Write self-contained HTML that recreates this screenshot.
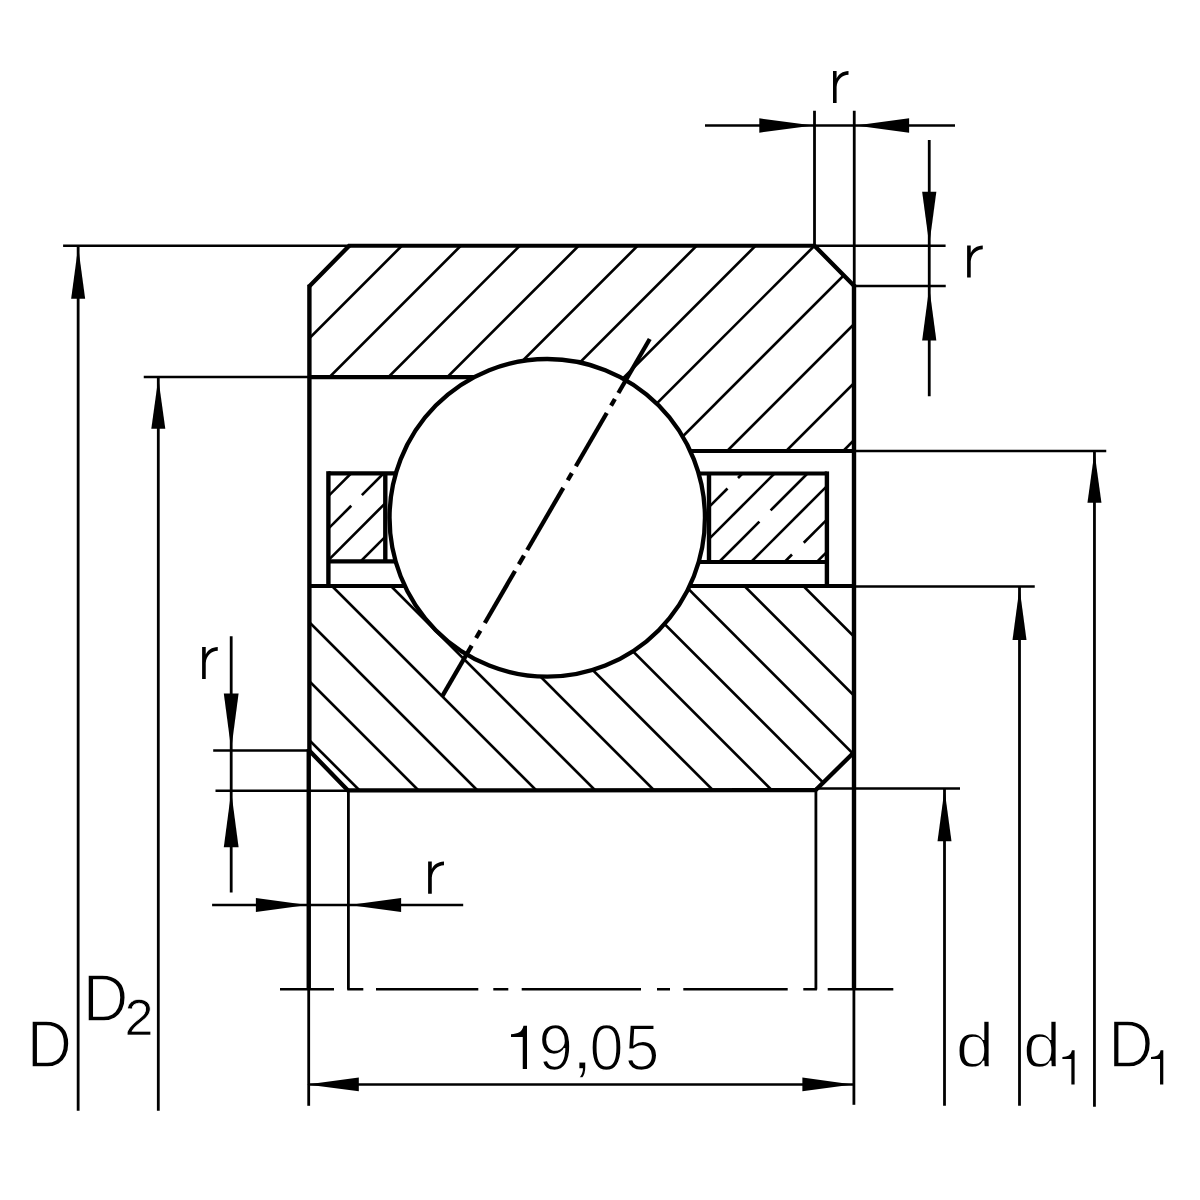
<!DOCTYPE html>
<html><head><meta charset="utf-8"><title>Bearing</title>
<style>
html,body{margin:0;padding:0;background:#fff;}
body{width:1200px;height:1200px;overflow:hidden;font-family:"Liberation Sans",sans-serif;}
svg{display:block;}
svg text{font-family:"Liberation Sans",sans-serif;fill:#000;}
</style></head><body>
<svg width="1200" height="1200" viewBox="0 0 1200 1200" stroke="#000" fill="none" stroke-linecap="butt">
<rect x="0" y="0" width="1200" height="1200" fill="#fff" stroke="none"/>
<defs>
<clipPath id="co"><polygon points="309.4,286.2 349.2,245.75 814.5,245.75 854,285.7 854,451 547,451 547,377.1 309.4,377.1"/></clipPath>
<clipPath id="ci"><polygon points="309.2,586 854,586 854,752.5 815.5,790.2 348,790.4 309.2,750.6"/></clipPath>
<clipPath id="cl"><rect x="328.4" y="473.3" width="56.9" height="88.1"/></clipPath>
<clipPath id="cr"><rect x="709" y="473.5" width="117.9" height="88.5"/></clipPath>
</defs>
<g clip-path="url(#co)">
<line x1="417.6" y1="230" x2="177.6" y2="470" stroke-width="2.65"/>
<line x1="476.55" y1="230" x2="236.55" y2="470" stroke-width="2.65"/>
<line x1="535.5" y1="230" x2="295.5" y2="470" stroke-width="2.65"/>
<line x1="594.45" y1="230" x2="354.45" y2="470" stroke-width="2.65"/>
<line x1="653.4" y1="230" x2="413.4" y2="470" stroke-width="2.65"/>
<line x1="712.35" y1="230" x2="472.35" y2="470" stroke-width="2.65"/>
<line x1="771.3" y1="230" x2="531.3" y2="470" stroke-width="2.65"/>
<line x1="830.25" y1="230" x2="590.25" y2="470" stroke-width="2.65"/>
<line x1="889.2" y1="230" x2="649.2" y2="470" stroke-width="2.65"/>
<line x1="948.15" y1="230" x2="708.15" y2="470" stroke-width="2.65"/>
<line x1="1007.1" y1="230" x2="767.1" y2="470" stroke-width="2.65"/>
<line x1="1064.2" y1="230" x2="824.2" y2="470" stroke-width="2.65"/>
</g>
<g clip-path="url(#ci)">
<line x1="139.2" y1="570" x2="369.2" y2="800" stroke-width="2.65"/>
<line x1="198.12" y1="570" x2="428.12" y2="800" stroke-width="2.65"/>
<line x1="257.04" y1="570" x2="487.04" y2="800" stroke-width="2.65"/>
<line x1="315.96" y1="570" x2="545.96" y2="800" stroke-width="2.65"/>
<line x1="374.88" y1="570" x2="604.88" y2="800" stroke-width="2.65"/>
<line x1="433.8" y1="570" x2="663.8" y2="800" stroke-width="2.65"/>
<line x1="492.72" y1="570" x2="722.72" y2="800" stroke-width="2.65"/>
<line x1="551.64" y1="570" x2="781.64" y2="800" stroke-width="2.65"/>
<line x1="610.56" y1="570" x2="840.56" y2="800" stroke-width="2.65"/>
<line x1="669.48" y1="570" x2="899.48" y2="800" stroke-width="2.65"/>
<line x1="728.4" y1="570" x2="958.4" y2="800" stroke-width="2.65"/>
<line x1="787.32" y1="570" x2="1017.32" y2="800" stroke-width="2.65"/>
</g>
<g clip-path="url(#cl)">
<line x1="320" y1="504.5" x2="360" y2="464.5" stroke-width="2.65"/>
<line x1="320" y1="537" x2="351.25" y2="505.75" stroke-width="2.65"/>
<line x1="361.9" y1="495.1" x2="395" y2="462" stroke-width="2.65"/>
<line x1="320" y1="568.5" x2="395" y2="493.5" stroke-width="2.65"/>
<line x1="355" y1="567" x2="395" y2="527" stroke-width="2.65"/>
</g>
<g clip-path="url(#cr)">
<line x1="700" y1="516" x2="727.5" y2="488.5" stroke-width="2.65"/>
<line x1="738" y1="478" x2="745" y2="471" stroke-width="2.65"/>
<line x1="700" y1="548" x2="780" y2="468" stroke-width="2.65"/>
<line x1="715" y1="566" x2="759.4" y2="521.6" stroke-width="2.65"/>
<line x1="770.6" y1="510.4" x2="810" y2="471" stroke-width="2.65"/>
<line x1="745" y1="568" x2="830" y2="483" stroke-width="2.65"/>
<line x1="780" y1="566.5" x2="792" y2="554.5" stroke-width="2.65"/>
<line x1="803.75" y1="542.75" x2="830" y2="516.5" stroke-width="2.65"/>
<line x1="812" y1="566.75" x2="830" y2="548.75" stroke-width="2.65"/>
</g>
<line x1="309.4" y1="284.8" x2="309.4" y2="752" stroke-width="4.4"/>
<line x1="308.75" y1="749" x2="308.75" y2="989" stroke-width="4.4"/>
<line x1="854" y1="284.3" x2="854" y2="989" stroke-width="4.4"/>
<line x1="348.2" y1="245.75" x2="815.5" y2="245.75" stroke-width="4.2"/>
<line x1="309.4" y1="377.1" x2="500" y2="377.1" stroke-width="4.2"/>
<line x1="600" y1="451" x2="854" y2="451" stroke-width="4.2"/>
<line x1="309.4" y1="586" x2="854" y2="586" stroke-width="4.2"/>
<path d="M348,790.4 L815.5,790.2" stroke-width="4.2"/>
<g stroke-width="4.3" stroke-linecap="square">
<line x1="310.4" y1="285.2" x2="348.2" y2="246.75"/>
<line x1="815.5" y1="246.75" x2="853" y2="284.7"/>
<line x1="310.2" y1="751.6" x2="347" y2="789.4"/>
<line x1="816.5" y1="789.2" x2="852.75" y2="753.5"/>
</g>
<line x1="328.4" y1="471.2" x2="328.4" y2="586" stroke-width="4.4"/>
<line x1="385.3" y1="473.3" x2="385.3" y2="561.4" stroke-width="4.4"/>
<line x1="328.4" y1="473.3" x2="420" y2="473.3" stroke-width="4.2"/>
<line x1="328.4" y1="561.4" x2="420" y2="561.4" stroke-width="4.2"/>
<line x1="826.9" y1="471.4" x2="826.9" y2="586" stroke-width="4.4"/>
<line x1="709" y1="473.5" x2="709" y2="562" stroke-width="4.4"/>
<line x1="680" y1="473.5" x2="826.9" y2="473.5" stroke-width="4.2"/>
<line x1="680" y1="562" x2="826.9" y2="562" stroke-width="4.2"/>
<ellipse cx="547.25" cy="517.85" rx="157.7" ry="158.85" fill="#fff" stroke-width="4.3"/>
<line x1="649.75" y1="339" x2="618.39" y2="393" stroke-width="4.3"/>
<line x1="614.9" y1="399" x2="611.07" y2="405.6" stroke-width="4.3"/>
<line x1="606.77" y1="413" x2="575.84" y2="466.25" stroke-width="4.3"/>
<line x1="571.86" y1="473.1" x2="567.71" y2="480.25" stroke-width="4.3"/>
<line x1="563.27" y1="487.9" x2="527.2" y2="550" stroke-width="4.3"/>
<line x1="523.95" y1="555.6" x2="518.84" y2="564.4" stroke-width="4.3"/>
<line x1="515.0" y1="571" x2="484.8" y2="623" stroke-width="4.3"/>
<line x1="480.39" y1="630.6" x2="476.09" y2="638" stroke-width="4.3"/>
<line x1="471.68" y1="645.6" x2="441.88" y2="696.9" stroke-width="4.3"/>
<line x1="308.7" y1="988" x2="308.7" y2="1105.8" stroke-width="2.8"/>
<line x1="853.9" y1="988" x2="853.9" y2="1104.8" stroke-width="2.8"/>
<line x1="854.25" y1="110.75" x2="854.25" y2="286" stroke-width="2.8"/>
<line x1="814.5" y1="110.75" x2="814.5" y2="246" stroke-width="2.8"/>
<line x1="348.4" y1="790" x2="348.4" y2="989.5" stroke-width="2.8"/>
<line x1="815.9" y1="790" x2="815.9" y2="989.5" stroke-width="2.8"/>
<line x1="280" y1="989.25" x2="334" y2="989.25" stroke-width="2.5"/>
<line x1="347.3" y1="989.25" x2="363.3" y2="989.25" stroke-width="2.5"/>
<line x1="376" y1="989.25" x2="478.3" y2="989.25" stroke-width="2.5"/>
<line x1="493.3" y1="989.25" x2="508.3" y2="989.25" stroke-width="2.5"/>
<line x1="521.7" y1="989.25" x2="641" y2="989.25" stroke-width="2.5"/>
<line x1="657" y1="989.25" x2="670" y2="989.25" stroke-width="2.5"/>
<line x1="683.3" y1="989.25" x2="787.7" y2="989.25" stroke-width="2.5"/>
<line x1="803.3" y1="989.25" x2="816.9" y2="989.25" stroke-width="2.5"/>
<line x1="827.7" y1="989.25" x2="893.3" y2="989.25" stroke-width="2.5"/>
<line x1="63.1" y1="245.75" x2="349" y2="245.75" stroke-width="2.5"/>
<line x1="78.15" y1="246" x2="78.15" y2="1110.75" stroke-width="2.8"/>
<line x1="143.75" y1="377.1" x2="309.4" y2="377.1" stroke-width="2.5"/>
<line x1="158.3" y1="378" x2="158.3" y2="1110.75" stroke-width="2.8"/>
<line x1="705" y1="125.5" x2="955" y2="125.5" stroke-width="2.5"/>
<line x1="814.5" y1="245.8" x2="945.6" y2="245.8" stroke-width="2.5"/>
<line x1="854" y1="286" x2="945.75" y2="286" stroke-width="2.5"/>
<line x1="929.25" y1="140" x2="929.25" y2="396.25" stroke-width="2.8"/>
<line x1="854" y1="450.9" x2="1106.25" y2="450.9" stroke-width="2.5"/>
<line x1="1094.45" y1="451" x2="1094.45" y2="1106.75" stroke-width="2.8"/>
<line x1="854" y1="586.6" x2="1034.75" y2="586.6" stroke-width="2.5"/>
<line x1="1019.5" y1="587" x2="1019.5" y2="1105.75" stroke-width="2.8"/>
<line x1="815.5" y1="788.4" x2="960" y2="788.4" stroke-width="2.5"/>
<line x1="944.5" y1="789" x2="944.5" y2="1105.75" stroke-width="2.8"/>
<line x1="213.2" y1="750.6" x2="309.4" y2="750.6" stroke-width="2.5"/>
<line x1="215.5" y1="790.7" x2="348" y2="790.7" stroke-width="2.5"/>
<line x1="231.2" y1="636.25" x2="231.2" y2="892.6" stroke-width="2.8"/>
<line x1="212.1" y1="905" x2="463.2" y2="905" stroke-width="2.5"/>
<line x1="309" y1="1084.4" x2="854" y2="1084.4" stroke-width="2.5"/>
<polygon points="78.15,246.8 71.15,298.8 85.15,298.8" fill="#000" stroke="none"/>
<polygon points="158.3,378.2 151.3,428.8 165.3,428.8" fill="#000" stroke="none"/>
<polygon points="1094.45,452.0 1087.45,502.7 1101.45,502.7" fill="#000" stroke="none"/>
<polygon points="1019.5,587.8 1012.5,640.0 1026.5,640.0" fill="#000" stroke="none"/>
<polygon points="944.5,789.5 937.5,841.25 951.5,841.25" fill="#000" stroke="none"/>
<polygon points="813.3,125.5 759.3,118.3 759.3,132.7" fill="#000" stroke="none"/>
<polygon points="855.5,125.5 909.1,118.3 909.1,132.7" fill="#000" stroke="none"/>
<polygon points="929.25,244.8 922.15,191.8 936.35,191.8" fill="#000" stroke="none"/>
<polygon points="929.25,287.2 922.15,340.6 936.35,340.6" fill="#000" stroke="none"/>
<polygon points="231.2,749.5 223.8,693.5 238.6,693.5" fill="#000" stroke="none"/>
<polygon points="231.2,791.4 223.8,847.2 238.6,847.2" fill="#000" stroke="none"/>
<polygon points="307.4,905 255.9,898.0 255.9,912.0" fill="#000" stroke="none"/>
<polygon points="349.3,905 401.1,898.0 401.1,912.0" fill="#000" stroke="none"/>
<polygon points="306.8,1084.4 358.8,1077.5 358.8,1091.3" fill="#000" stroke="none"/>
<polygon points="852.8,1084.4 802.4,1077.5 802.4,1091.3" fill="#000" stroke="none"/>
<text transform="translate(26.69,1066.80) scale(1.0099,1.0707)" font-size="62.0" stroke="#fff" stroke-width="1.5" stroke-linejoin="miter">D</text>
<text transform="translate(82.64,1020.80) scale(1.0184,1.0671)" font-size="62.0" stroke="#fff" stroke-width="1.5" stroke-linejoin="miter">D</text>
<text transform="translate(124.56,1035.16) scale(0.8400,0.8178)" font-size="62.0" stroke="#fff" stroke-width="0.9" stroke-linejoin="miter">2</text>
<text transform="translate(538.46,1069.76) scale(0.9963,1.0556)" font-size="62.0" stroke="#fff" stroke-width="1.5" stroke-linejoin="miter">9</text>
<text transform="translate(570.49,1068.68) scale(1.3556,1.0923)" font-size="62.0" stroke="#fff" stroke-width="1.5" stroke-linejoin="miter">,</text>
<text transform="translate(589.60,1069.76) scale(0.9857,1.0556)" font-size="62.0" stroke="#fff" stroke-width="1.5" stroke-linejoin="miter">0</text>
<text transform="translate(624.69,1069.76) scale(1.0036,1.0482)" font-size="62.0" stroke="#fff" stroke-width="1.5" stroke-linejoin="miter">5</text>
<text transform="translate(955.63,1066.95) scale(1.1132,1.0091)" font-size="62.0" stroke="#fff" stroke-width="1.5" stroke-linejoin="miter">d</text>
<text transform="translate(1023.11,1066.95) scale(1.1057,1.0091)" font-size="62.0" stroke="#fff" stroke-width="1.5" stroke-linejoin="miter">d</text>
<text transform="translate(1108.19,1066.80) scale(1.0099,1.0659)" font-size="62.0" stroke="#fff" stroke-width="1.5" stroke-linejoin="miter">D</text>
<path transform="translate(511.0,1025.75) scale(1.0000,1.0000)" d="M16,0 L16,43.25 L11.75,43.25 L11.75,11.15 L0,11.15 L0,8.45 C7,7.85 11,6.75 12.5,0 Z" fill="#000" stroke="none"/>
<path transform="translate(1062.4,1050.2) scale(0.7625,0.7908)" d="M16,0 L16,43.25 L11.75,43.25 L11.75,11.15 L0,11.15 L0,8.45 C7,7.85 11,6.75 12.5,0 Z" fill="#000" stroke="none"/>
<path transform="translate(1151.0,1050.2) scale(0.7687,0.7908)" d="M16,0 L16,43.25 L11.75,43.25 L11.75,11.15 L0,11.15 L0,8.45 C7,7.85 11,6.75 12.5,0 Z" fill="#000" stroke="none"/>
<path transform="translate(833.0,71.0) scale(1.0000,1.0000)" d="M0,0 H3.6 V7.5 C5.5,3.2 9.5,0.3 15.5,0 V3.75 C9,4.2 4.2,8.5 3.6,16 V32 H0 Z" fill="#000" stroke="none"/>
<path transform="translate(967.1,245.5) scale(1.0097,1.0031)" d="M0,0 H3.6 V7.5 C5.5,3.2 9.5,0.3 15.5,0 V3.75 C9,4.2 4.2,8.5 3.6,16 V32 H0 Z" fill="#000" stroke="none"/>
<path transform="translate(202.1,647.0) scale(1.0097,0.9969)" d="M0,0 H3.6 V7.5 C5.5,3.2 9.5,0.3 15.5,0 V3.75 C9,4.2 4.2,8.5 3.6,16 V32 H0 Z" fill="#000" stroke="none"/>
<path transform="translate(428.1,861.5) scale(1.0258,1.0078)" d="M0,0 H3.6 V7.5 C5.5,3.2 9.5,0.3 15.5,0 V3.75 C9,4.2 4.2,8.5 3.6,16 V32 H0 Z" fill="#000" stroke="none"/>
</svg>
</body></html>
